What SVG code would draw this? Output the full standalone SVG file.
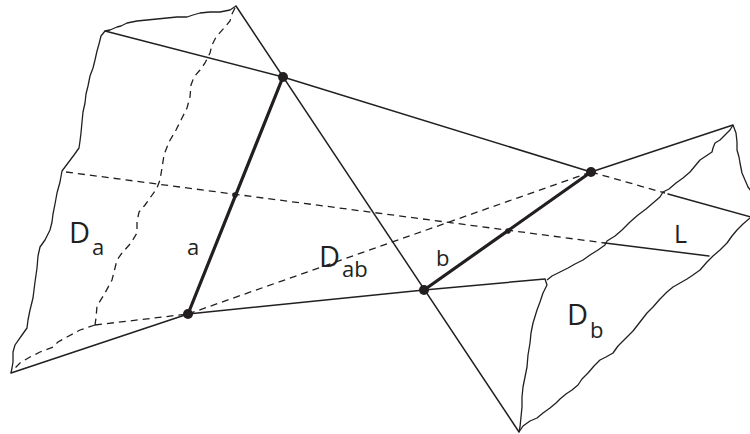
<svg xmlns="http://www.w3.org/2000/svg" width="750" height="434" viewBox="0 0 750 434">
<style>
.ln{fill:none;stroke:#231f20;stroke-width:1.5;stroke-linejoin:round;stroke-linecap:round}
.jag{fill:none;stroke:#231f20;stroke-width:1.3;stroke-linejoin:round}
.dash{fill:none;stroke:#231f20;stroke-width:1.3;stroke-dasharray:7 5}
.thick{fill:none;stroke:#231f20;stroke-width:3.2;stroke-linecap:round}
.dot{fill:#231f20}
.lbl{font-family:"Open Sans","Noto Sans",sans-serif;fill:#231f20}
</style>
<rect width="750" height="434" fill="#ffffff"/>
<g id="region-Da">
<polyline class="jag" points="236,6 230,10 220,12 210,12 200,13 193,15 187,17 177,17 167,18 157,19 147,20 137,21 127,23 121,26 117,27 110,30 105,31"/>
<polyline class="jag" points="105,31 101,36 99,44 97,51 95,60 93,68 90,76 88,86 86,94 85,103 83,112 82,122 81,133 80,141 79,148 74,155 68,163 62,171 60,182 57,193 55,204 53,214 52,222 50,230 45,240 40,247 38,256 37,268 35,282 33,298 30,310 28,320 27,328 22,335 15,345 13,352 13,362 12,368 11,373"/>
<polyline class="dash" points="235,8 232,14 230,21 224,28 216,37 212,45 210,53 205,63 200,70 194,77 191,85 190,97 187,108 181,120 176,130 169,142 164,155 162,168 160,180 157,188 150,198 145,205 139,212 137,222 137,233 131,243 122,253 117,260 115,268 112,280 105,293 97,306 96,318 95,325"/>
<polyline class="dash" points="95,325 80,330 67,337 58,342 53,347 40,352 30,357 20,363 13,370"/>
<line class="dash" x1="95" y1="325" x2="188" y2="314"/>
</g>
<g id="region-Db">
<polyline class="jag" points="733,125 730,130 724,136 720,140 715,143 713,148 712,152 706,156 700,160 695,166 690,172 683,178 676,183 669,189 663,192 660,197 653,203 646,209 638,215 630,222 622,230 615,236 607,241 605,245 598,250 590,255 583,260 575,264 568,268 560,272 552,276 547,280"/>
<polyline class="jag" points="545,279 547,285 543,293 540,302 537,310 533,323 531,333 530,343 528,355 527,367 525,377 523,387 522,397 522,407 521,417 520,427 519,432"/>
<polyline class="jag" points="519,432 523,426 530,421 537,418 543,413 550,408 556,403 560,399 566,394 572,390 578,385 582,379 588,373 594,366 600,360 606,357 613,353 618,346 623,341 627,337 633,331 640,322 647,313 653,307 660,299 667,292 673,287 680,283 687,279 693,275 700,270 707,262 713,256 720,250 727,243 732,236 737,230 743,224 750,218"/>
<polyline class="jag" points="733,125 736,133 737,142 737,150 739,157 740,163 742,173 745,180 748,187 751,191"/>
</g>
<g id="connectors">
<polyline class="ln" points="105,31 283,77 591,172 733,125"/>
<line class="ln" x1="236" y1="6" x2="519" y2="432"/>
<polyline class="ln" points="11,373 188,314 424,290 545,279"/>
<line class="dash" x1="591" y1="172" x2="665" y2="193"/>
<line class="ln" x1="668" y1="194" x2="751" y2="217"/>
<line class="dash" x1="188" y1="314" x2="591" y2="172"/>
<line class="dash" x1="66" y1="172" x2="605" y2="243"/>
<line class="ln" x1="605" y1="243" x2="709" y2="256"/>
<line class="thick" x1="283" y1="77" x2="188" y2="314"/>
<line class="thick" x1="424" y1="290" x2="591" y2="172"/>
</g>
<g id="points">
<circle class="dot" cx="283" cy="77" r="5"/>
<circle class="dot" cx="188" cy="314" r="5"/>
<circle class="dot" cx="424" cy="290" r="5"/>
<circle class="dot" cx="591" cy="172" r="5"/>
<circle class="dot" cx="235" cy="195" r="2.8"/>
<circle class="dot" cx="508" cy="231" r="2.8"/>
</g>
<g id="labels">
<text class="lbl" x="69" y="243" font-size="29">D</text>
<text class="lbl" x="92" y="255" font-size="22">a</text>
<text class="lbl" x="187" y="255" font-size="22">a</text>
<text class="lbl" x="319" y="267" font-size="29">D</text>
<text class="lbl" x="342" y="277" font-size="22">ab</text>
<text class="lbl" x="436" y="266" font-size="22">b</text>
<text class="lbl" x="674" y="243" font-size="25">L</text>
<text class="lbl" x="567" y="325" font-size="29">D</text>
<text class="lbl" x="590" y="338" font-size="22">b</text>
</g>
</svg>
